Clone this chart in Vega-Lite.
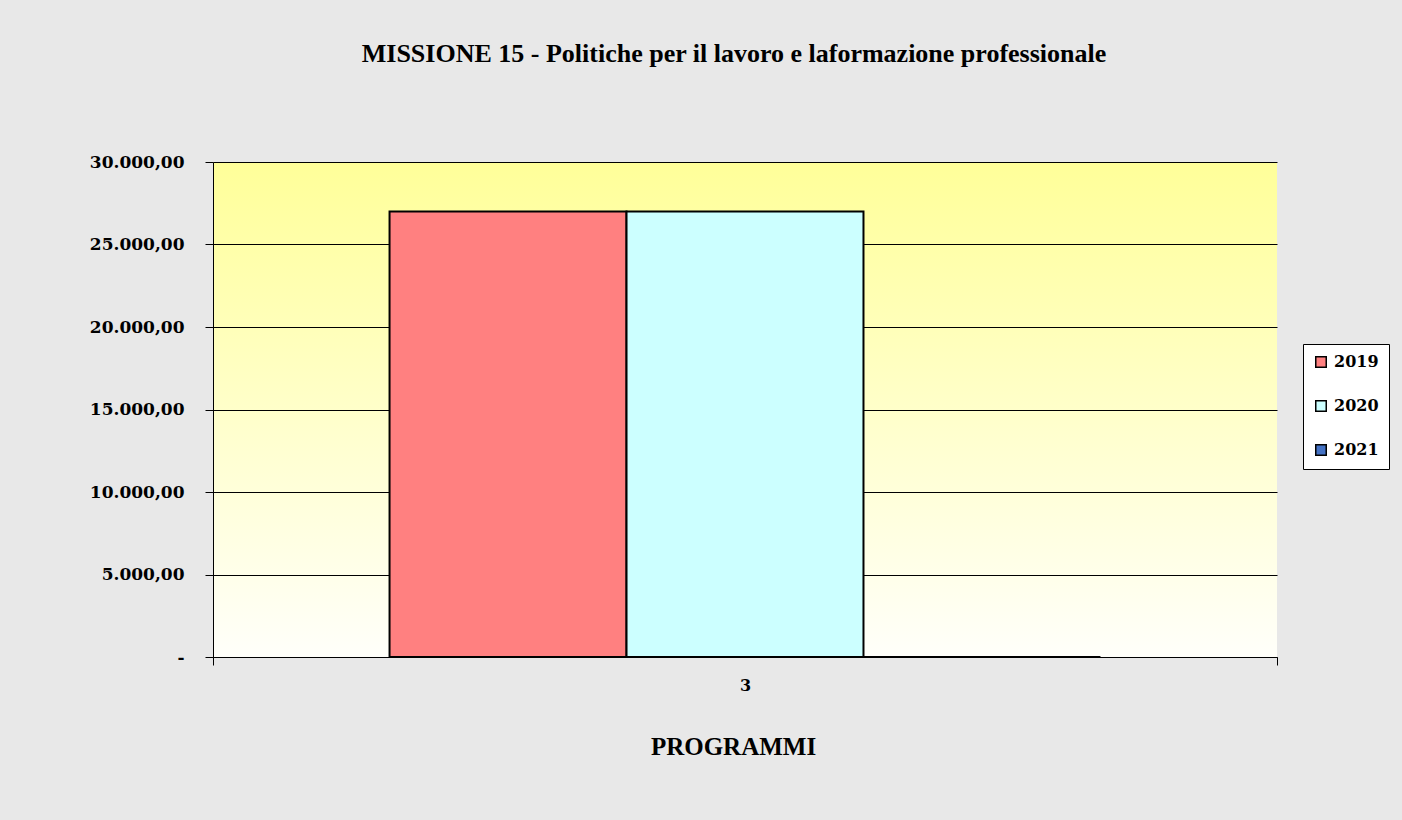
{
  "$schema": "https://vega.github.io/schema/vega-lite/v6.json",
  "width": 1064,
  "height": 495,
  "autosize": {"type": "none"},
  "padding": {"left": 213, "top": 162, "right": 125, "bottom": 163},
  "background": "#e8e8e8",
  "title": {
    "text": "MISSIONE 15 - Politiche per il  lavoro e laformazione professionale",
    "font": "Liberation Serif",
    "fontSize": 26,
    "fontWeight": "bold",
    "color": "black",
    "anchor": "middle",
    "offset": 86,
    "dx": -11
  },
  "data": {
    "values": [
      {"programma": "3", "anno": "2019", "valore": 27000},
      {"programma": "3", "anno": "2020", "valore": 27000},
      {"programma": "3", "anno": "2021", "valore": 0}
    ]
  },
  "mark": {"type": "bar", "stroke": "black", "strokeWidth": 2},
  "encoding": {
    "x": {
      "field": "programma",
      "type": "nominal",
      "scale": {"paddingInner": 0, "paddingOuter": 0},
      "axis": {
        "labelAngle": 0,
        "tickBand": "extent",
        "tickSize": 8,
        "tickColor": "black",
        "domainColor": "black",
        "labelFont": "DejaVu Serif",
        "labelFontSize": 16,
        "labelFontWeight": "bold",
        "labelColor": "black",
        "labelPadding": 12,
        "title": "PROGRAMMI",
        "titleFont": "Liberation Serif",
        "titleFontSize": 25,
        "titleFontWeight": "bold",
        "titleColor": "black",
        "titlePadding": 41,
        "titleX": 520,
        "titleAlign": "center"
      }
    },
    "xOffset": {
      "field": "anno",
      "scale": {"paddingInner": 0, "paddingOuter": 0.745}
    },
    "y": {
      "field": "valore",
      "type": "quantitative",
      "scale": {"domain": [0, 30000]},
      "axis": {
        "values": [0, 5000, 10000, 15000, 20000, 25000, 30000],
        "labelExpr": "datum.value == 0 ? '-' : replace(replace(replace(format(datum.value, ',.2f'), ',', '#'), '.', ','), '#', '.')",
        "domainColor": "black",
        "tickColor": "black",
        "tickSize": 8,
        "gridColor": "black",
        "gridWidth": 1,
        "gridOpacity": 1,
        "labelFont": "DejaVu Serif",
        "labelFontSize": 17,
        "labelFontWeight": "bold",
        "labelColor": "black",
        "labelPadding": 21,
        "title": null
      }
    },
    "color": {
      "field": "anno",
      "type": "nominal",
      "scale": {"domain": ["2019", "2020", "2021"], "range": ["#FF8080", "#CCFFFF", "#4472C4"]},
      "legend": {
        "orient": "none",
        "legendX": 1090,
        "legendY": 182,
        "title": null,
        "strokeColor": "black",
        "fillColor": "white",
        "padding": 10,
        "symbolType": "square",
        "symbolSize": 110,
        "symbolStrokeColor": "black",
        "symbolStrokeWidth": 1.5,
        "labelFont": "DejaVu Serif",
        "labelFontSize": 16,
        "labelFontWeight": "bold",
        "labelColor": "black",
        "labelOffset": 5,
        "rowPadding": 26
      }
    }
  },
  "config": {
    "view": {
      "fill": {
        "gradient": "linear",
        "x1": 0, "y1": 0, "x2": 0, "y2": 1,
        "stops": [
          {"offset": 0, "color": "#FFFF99"},
          {"offset": 1, "color": "#FFFFFA"}
        ]
      },
      "stroke": null
    }
  }
}
